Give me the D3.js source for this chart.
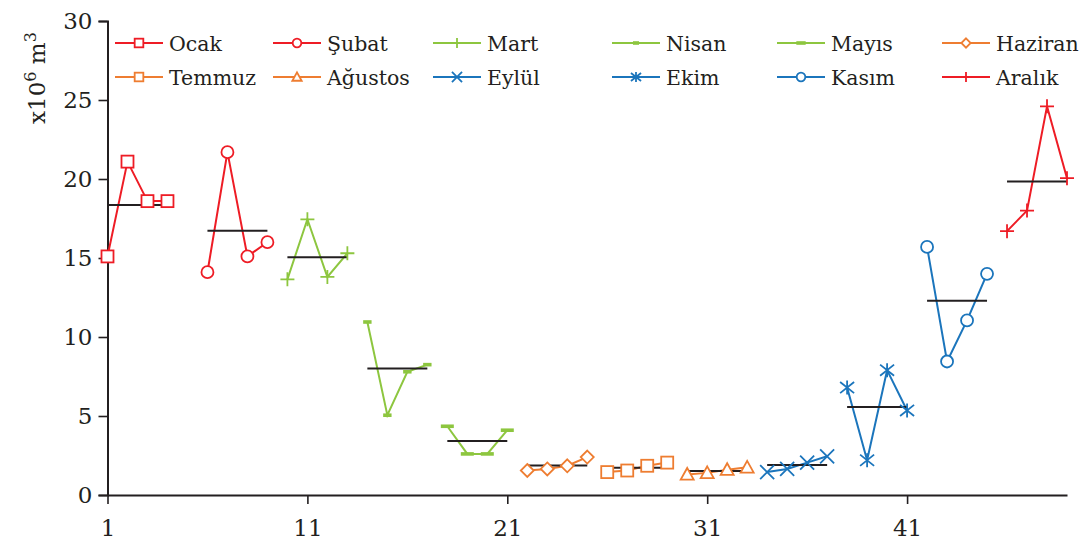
<!DOCTYPE html>
<html>
<head>
<meta charset="utf-8">
<script src="https://cdn.jsdelivr.net/npm/d3@7"></script>
<style>
  body { margin: 0; background: #fff; }
  svg text { fill: #231f20; }
</style>
</head>
<body>
<div id="chart"></div>
<script>
// months and their markers
let months = ["Ocak", "Şubat", "Mart", "Nisan", "Mayıs", "Haziran",
              "Temmuz", "Ağustos", "Eylül", "Ekim", "Kasım", "Aralık"];
let markers = ["square", "circle", "plus", "dash", "longdash", "diamond",
               "square", "triangle", "cross", "asterisk", "circle", "plus"];
let colors = ["#ee1c25", "#ee1c25", "#8dc63f", "#8dc63f", "#8dc63f", "#ee7d31",
              "#ee7d31", "#ee7d31", "#1b75bc", "#1b75bc", "#1b75bc", "#ee1c25"];

// x positions (week index) of each month's 4 points
let xStart = [1, 6, 10, 14, 18, 22, 26, 30, 34, 38, 42, 46];

// values x10^6 m3
let vOcak    = [15.1, 21.1, 18.6, 18.6];
let vSubat   = [14.1, 21.7, 15.1, 16.0];
let vMart    = [13.65, 17.45, 13.8, 15.3];
let vNisan   = [10.95, 5.05, 7.8, 8.25];
let vMayis   = [4.35, 2.6, 2.6, 4.1];
let vHaziran = [1.55, 1.65, 1.85, 2.4];
let vTemmuz  = [1.45, 1.55, 1.85, 2.05];
let vAgustos = [1.3, 1.4, 1.6, 1.75];
let vEylul   = [1.45, 1.65, 2.05, 2.45];
let vEkim    = [6.8, 2.2, 7.9, 5.35];
let vKasim   = [15.7, 8.45, 11.05, 14.0];
let vAralik  = [16.7, 18.0, 24.6, 20.05];
let values = [vOcak, vSubat, vMart, vNisan, vMayis, vHaziran,
              vTemmuz, vAgustos, vEylul, vEkim, vKasim, vAralik];

let xTicks = [1, 11, 21, 31, 41];
let yTicks = [0, 5, 10, 15, 20, 25, 30];

let serif = "'DejaVu Serif', serif";
let width = 1091, height = 548;
let svg = d3.select("#chart").append("svg")
    .attr("width", width)
    .attr("height", height)
    .style("font-family", serif);

let x = d3.scaleLinear().domain([1, 49]).range([107.5, 1067]);
let y = d3.scaleLinear().domain([0, 30]).range([495, 21]);

// axes
let yAxis = svg.append("g")
    .attr("transform", "translate(" + x(1) + ",0)")
    .call(d3.axisLeft(y).tickValues(yTicks).tickSize(9).tickPadding(6));
yAxis.attr("font-family", null).attr("font-size", 23);
yAxis.select(".domain").attr("stroke", "#231f20").attr("stroke-width", 2);
yAxis.selectAll(".tick line").attr("stroke", "#231f20").attr("stroke-width", 1.6);
yAxis.selectAll(".tick text").attr("fill", "#231f20");

let xAxis = svg.append("g")
    .attr("transform", "translate(0," + y(0) + ")")
    .call(d3.axisBottom(x).tickValues(xTicks).tickSize(9).tickPadding(16).tickSizeOuter(0));
xAxis.attr("font-family", null).attr("font-size", 23);
xAxis.select(".domain").attr("stroke", "#231f20").attr("stroke-width", 2);
xAxis.selectAll(".tick line").attr("stroke", "#231f20").attr("stroke-width", 1.6);
xAxis.selectAll(".tick text").attr("fill", "#231f20");

// y axis label
let yl = svg.append("text")
    .attr("transform", "translate(45,78) rotate(-90)")
    .attr("text-anchor", "middle")
    .attr("font-size", 23);
yl.append("tspan").text("x10");
yl.append("tspan").attr("dy", -9).attr("font-size", 16).text("6");
yl.append("tspan").attr("dy", 9).text(" m");
yl.append("tspan").attr("dy", -9).attr("font-size", 16).text("3");

function drawMarker(g, type, s, color) {
    let h = s / 2;
    if (type == "square") {
        g.append("rect").attr("x", -h).attr("y", -h).attr("width", s).attr("height", s)
            .attr("fill", "#fff").attr("stroke", color).attr("stroke-width", 1.8);
    } else if (type == "circle") {
        g.append("circle").attr("r", h)
            .attr("fill", "#fff").attr("stroke", color).attr("stroke-width", 1.8);
    } else if (type == "plus") {
        g.append("path").attr("d", "M" + (-h) + ",0H" + h + "M0," + (-h) + "V" + h)
            .attr("stroke", color).attr("stroke-width", 1.8);
    } else if (type == "dash") {
        g.append("rect").attr("x", -h * 0.6).attr("y", -1.8).attr("width", s * 0.6).attr("height", 3.6)
            .attr("fill", color);
    } else if (type == "longdash") {
        g.append("rect").attr("x", -h).attr("y", -1.8).attr("width", s).attr("height", 3.6)
            .attr("fill", color);
    } else if (type == "diamond") {
        g.append("path").attr("d", "M0," + (-h) + "L" + h + ",0L0," + h + "L" + (-h) + ",0Z")
            .attr("fill", "#fff").attr("stroke", color).attr("stroke-width", 1.8);
    } else if (type == "triangle") {
        g.append("path").attr("d", "M0," + (-h) + "L" + h + "," + (h * 0.8) + "L" + (-h) + "," + (h * 0.8) + "Z")
            .attr("fill", "#fff").attr("stroke", color).attr("stroke-width", 1.8);
    } else if (type == "cross") {
        g.append("path").attr("d", "M" + (-h) + "," + (-h) + "L" + h + "," + h + "M" + h + "," + (-h) + "L" + (-h) + "," + h)
            .attr("stroke", color).attr("stroke-width", 1.8);
    } else if (type == "asterisk") {
        g.append("path").attr("d", "M" + (-h) + "," + (-h * 0.8) + "L" + h + "," + (h * 0.8) +
            "M" + h + "," + (-h * 0.8) + "L" + (-h) + "," + (h * 0.8) + "M0," + (-h) + "V" + h)
            .attr("stroke", color).attr("stroke-width", 1.8);
    }
}

let markerSize = {square: 12, circle: 12, plus: 14, dash: 14, longdash: 13,
                  diamond: 13, triangle: 13, cross: 14, asterisk: 14};

let line = d3.line().x(d => x(d[0])).y(d => y(d[1]));

// series
for (let i = 0; i < months.length; ++i) {
    let pts = values[i].map((v, j) => [xStart[i] + j, v]);
    let g = svg.append("g").attr("class", "series");
    g.append("path").datum(pts)
        .attr("d", line)
        .attr("fill", "none")
        .attr("stroke", colors[i])
        .attr("stroke-width", 2);
    // mean line
    let m = d3.mean(values[i]);
    g.append("line")
        .attr("x1", x(xStart[i])).attr("x2", x(xStart[i] + 3))
        .attr("y1", y(m)).attr("y2", y(m))
        .attr("stroke", "#231f20").attr("stroke-width", 2);
    pts.forEach(function (p) {
        let mg = g.append("g").attr("transform", "translate(" + x(p[0]) + "," + y(p[1]) + ")");
        drawMarker(mg, markers[i], markerSize[markers[i]], colors[i]);
    });
}

// legend (6 columns x 2 rows)
let legCols = [115, 273, 433, 612, 777, 942];
let legRows = [43, 77];
let leg = svg.append("g").attr("class", "legend");
for (let i = 0; i < months.length; ++i) {
    let lx = legCols[i % 6], ly = legRows[Math.floor(i / 6)];
    let g = leg.append("g").attr("transform", "translate(" + lx + "," + ly + ")");
    g.append("line").attr("x1", 0).attr("x2", 48).attr("y1", 0).attr("y2", 0)
        .attr("stroke", colors[i]).attr("stroke-width", 2);
    let mg = g.append("g").attr("transform", "translate(24,0)");
    drawMarker(mg, markers[i], markerSize[markers[i]] * 0.72, colors[i]);
    g.append("text").attr("x", 54).attr("y", 8)
        .attr("font-size", 20.5)
        .text(months[i]);
}
</script>
</body>
</html>
